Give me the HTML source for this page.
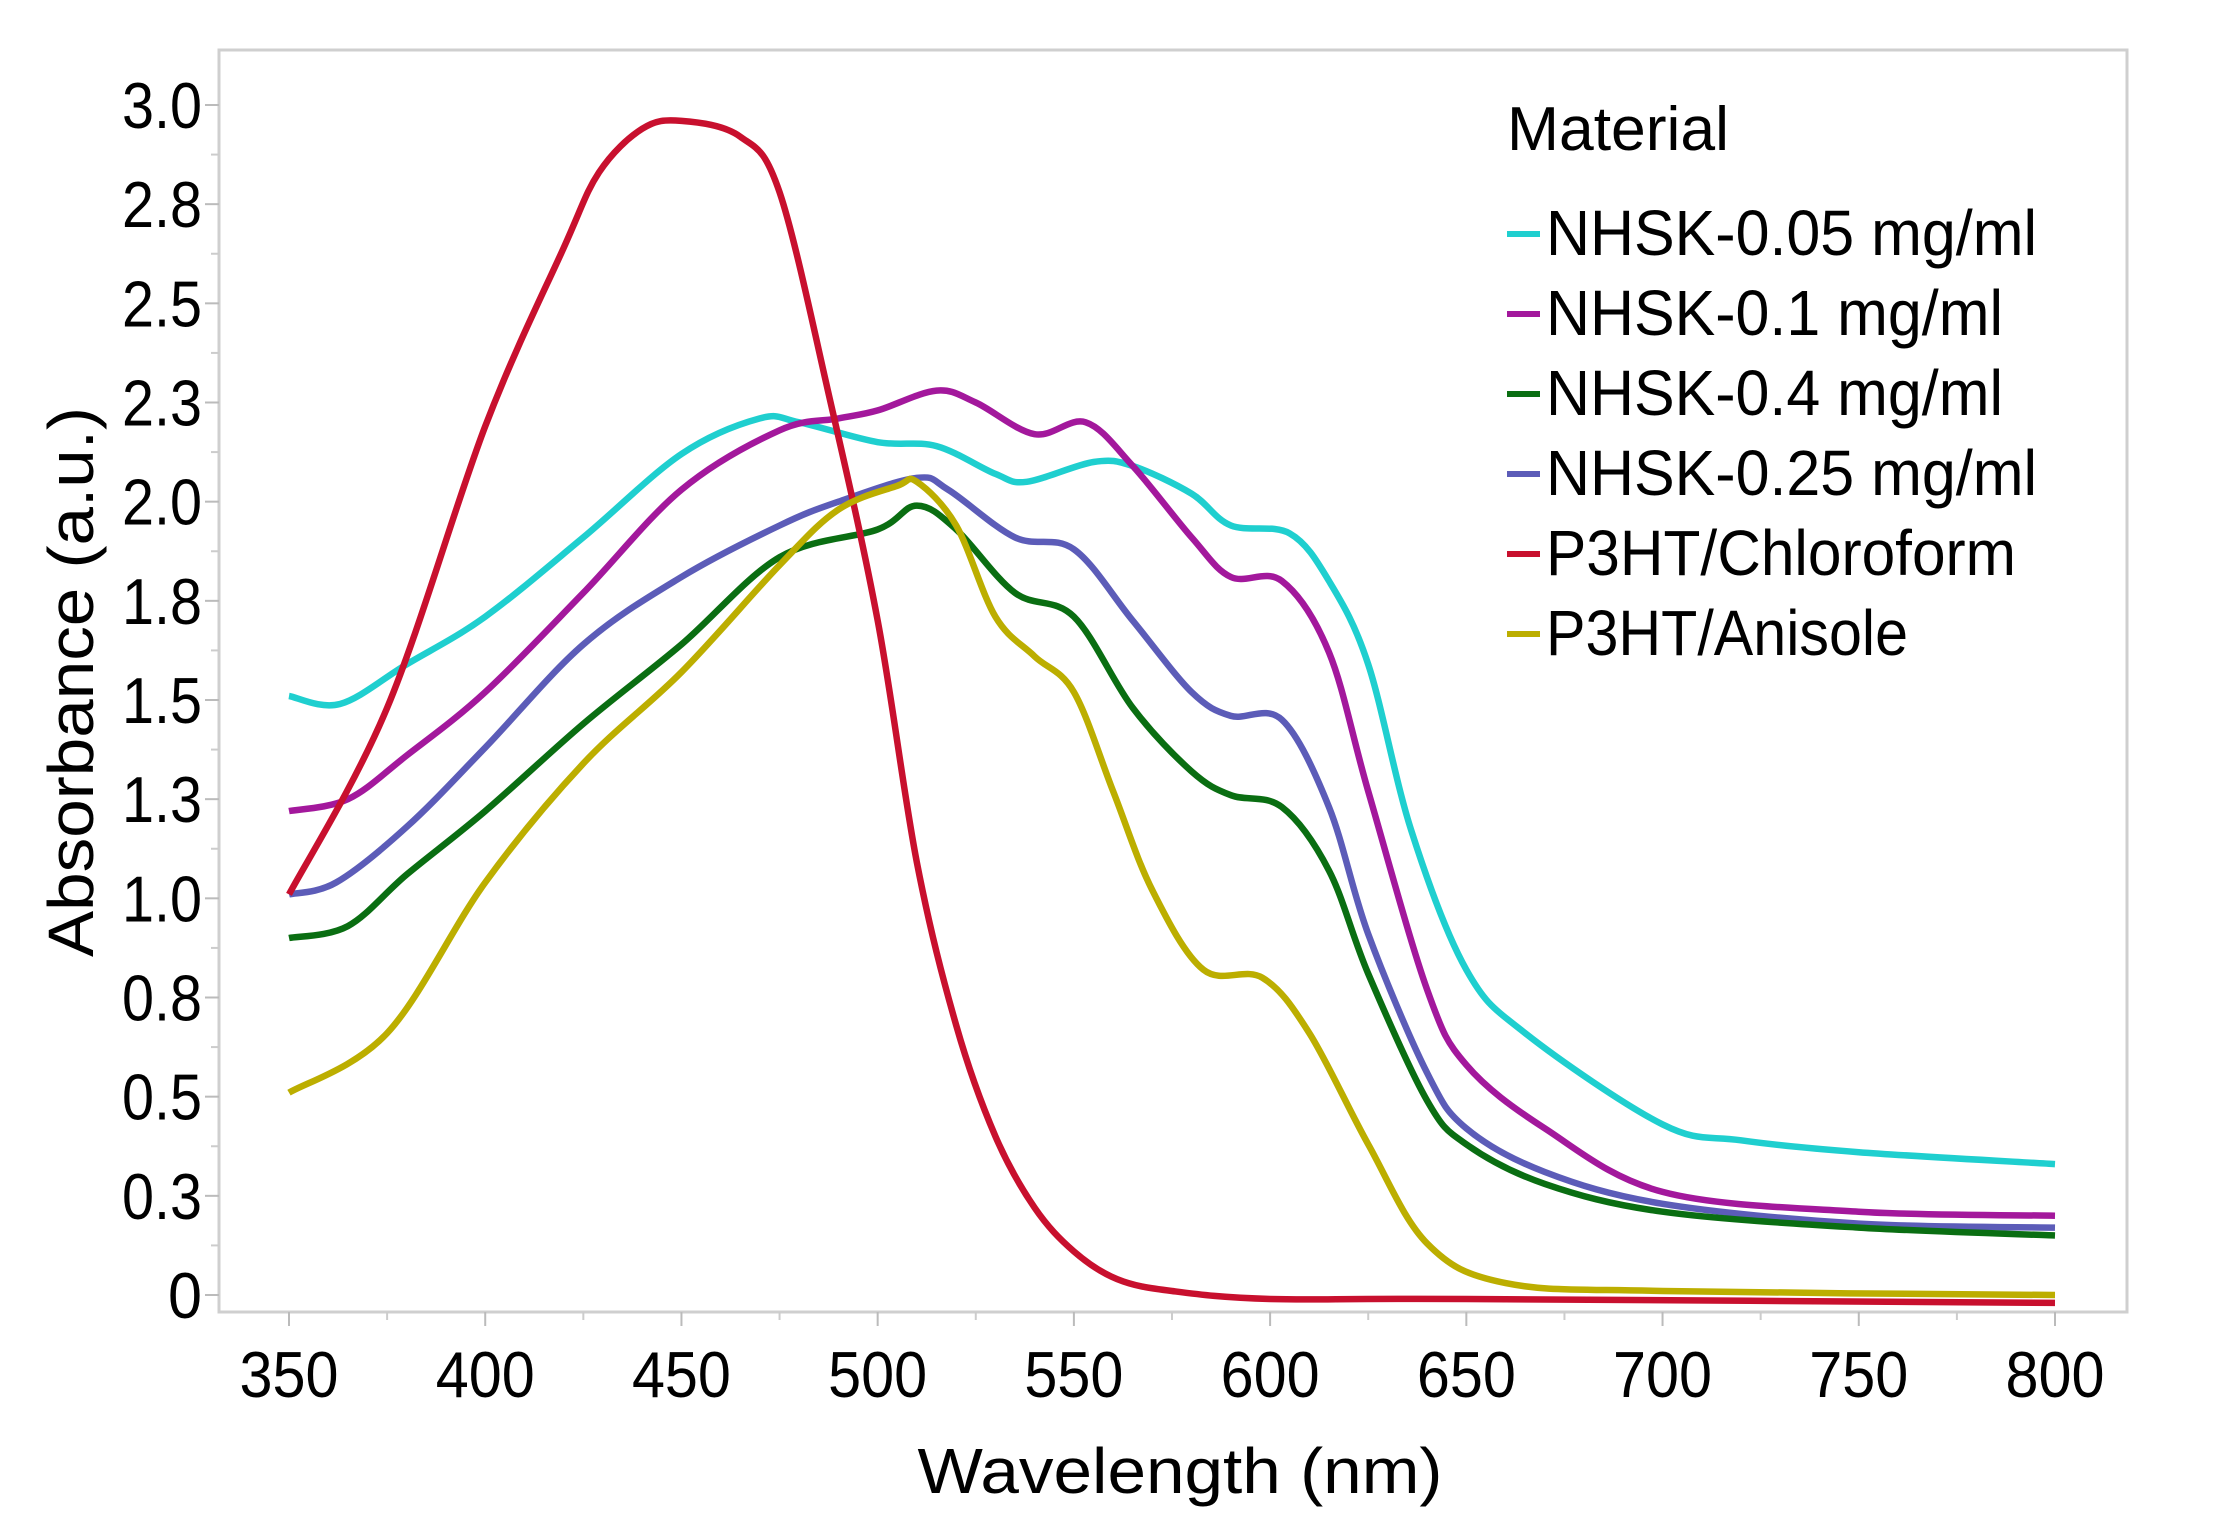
<!DOCTYPE html>
<html><head><meta charset="utf-8"><style>
html,body{margin:0;padding:0;background:#fff;}
svg{display:block;font-family:"Liberation Sans",sans-serif;}
</style></head><body>
<svg id="chart" width="2213" height="1536" viewBox="0 0 2213 1536">
<g id="axes"></g><g id="series"></g><g id="legend"></g>
</svg>
<script>
const xTicks=[350,400,450,500,550,600,650,700,750,800];
const yTickVals=[0,0.25,0.5,0.75,1,1.25,1.5,1.75,2,2.25,2.5,2.75,3];
const yTickLabels=["0","0.3","0.5","0.8","1.0","1.3","1.5","1.8","2.0","2.3","2.5","2.8","3.0"];
const seriesNames=["NHSK-0.05 mg/ml","NHSK-0.1 mg/ml","NHSK-0.4 mg/ml","NHSK-0.25 mg/ml","P3HT/Chloroform","P3HT/Anisole"];
const seriesColors=["#1fcfcf","#a3189c","#0a6e12","#5c5cb8","#c8102e","#bcae00"];
const wlCyan=[350,363,380,400,425,450,470,480,500,515,530,538,555,565,580,590,605,615,625,636,650,665,700,720,750,800];
const absCyan=[1.51,1.49,1.59,1.71,1.91,2.12,2.21,2.20,2.15,2.14,2.07,2.05,2.10,2.09,2.02,1.94,1.92,1.80,1.59,1.17,0.82,0.66,0.43,0.39,0.36,0.33];
const wlMag=[350,365,380,400,425,450,475,490,500,515,525,540,553,565,580,590,603,615,625,640,650,670,700,750,800];
const absMag=[1.22,1.25,1.36,1.52,1.77,2.03,2.18,2.21,2.23,2.28,2.25,2.17,2.20,2.09,1.91,1.81,1.80,1.62,1.27,0.77,0.58,0.42,0.26,0.21,0.20];
const wlGreen=[350,365,380,400,425,450,475,500,510,520,535,550,565,580,590,603,615,625,640,650,670,700,750,800];
const absGreen=[0.90,0.93,1.06,1.22,1.44,1.64,1.86,1.93,1.99,1.93,1.77,1.71,1.48,1.32,1.26,1.23,1.07,0.81,0.49,0.38,0.28,0.21,0.17,0.15];
const wlBlue=[350,362,380,400,425,450,475,490,510,518,535,550,565,580,590,603,615,625,640,650,670,700,750,800];
const absBlue=[1.01,1.04,1.18,1.38,1.64,1.81,1.94,2.00,2.06,2.03,1.91,1.88,1.70,1.52,1.46,1.45,1.23,0.91,0.56,0.42,0.31,0.23,0.18,0.17];
const wlRed=[350,375,400,420,429,440,450,465,475,488,500,510,520,530,540,550,561,575,600,650,800];
const absRed=[1.01,1.48,2.19,2.64,2.83,2.94,2.96,2.92,2.78,2.25,1.70,1.09,0.68,0.40,0.22,0.11,0.04,0.01,-0.01,-0.01,-0.02];
const wlYel=[350,375,400,425,450,475,490,505,510,520,530,540,550,560,570,583,598,610,625,640,660,700,800];
const absYel=[0.51,0.66,1.04,1.34,1.57,1.84,1.98,2.04,2.05,1.94,1.71,1.61,1.52,1.27,1.02,0.82,0.80,0.66,0.38,0.13,0.03,0.01,0.0];
const allWl=[wlCyan,wlMag,wlGreen,wlBlue,wlRed,wlYel];
const allAbs=[absCyan,absMag,absGreen,absBlue,absRed,absYel];

const NS="http://www.w3.org/2000/svg";
const X0=289,X1=2055,Y0=1295,Y3=105;
function xs(w){return X0+(w-350)*(X1-X0)/450;}
function ys(v){return Y0-v*(Y0-Y3)/3;}
function mk(tag,attrs,parent){const e=document.createElementNS(NS,tag);for(const k in attrs)e.setAttribute(k,attrs[k]);parent.appendChild(e);return e;}
const axes=document.getElementById('axes');
let f=mk('path',{d:'M219 1312 L2127 1312 L2127 50 L219 50 Z',fill:'none',stroke:'#cfcfcf','stroke-width':3},axes);


xTicks.forEach((t,i)=>{
  const l=mk('line',{x1:xs(t),x2:xs(t),y1:1312,y2:1326,stroke:'#bbb','stroke-width':2},axes);
  
  
  if(i<xTicks.length-1){const m=mk('line',{x1:xs(t+25),x2:xs(t+25),y1:1312,y2:1320,stroke:'#ccc','stroke-width':2},axes);
  
  }
  const tx=mk('text',{x:xs(t),y:1397,'text-anchor':'middle','font-size':65,textLength:99,lengthAdjust:'spacingAndGlyphs',fill:'#000'},axes);
  tx.textContent=t;
  
  
});
yTickVals.forEach((v,i)=>{
  const l=mk('line',{x1:205,x2:219,y1:ys(v),y2:ys(v),stroke:'#bbb','stroke-width':2},axes);
  
  
  if(i<yTickVals.length-1){const m=mk('line',{x1:211,x2:219,y1:ys(v+0.125),y2:ys(v+0.125),stroke:'#ccc','stroke-width':2},axes);
  
  }
  const lab=yTickLabels[i];
  const tx=mk('text',{x:202,y:ys(v)+23,'text-anchor':'end','font-size':65,textLength:lab.length===1?34:80,lengthAdjust:'spacingAndGlyphs',fill:'#000'},axes);
  tx.textContent=lab;
  
  
});
let xt=mk('text',{x:1180,y:1493,'text-anchor':'middle','font-size':64,textLength:525,lengthAdjust:'spacingAndGlyphs',fill:'#000'},axes);
xt.textContent='Wavelength (nm)';


let yt=mk('text',{x:0,y:0,'text-anchor':'middle','font-size':64,textLength:550,lengthAdjust:'spacingAndGlyphs',fill:'#000',transform:'translate(93,682) rotate(-90)'},axes);
yt.textContent='Absorbance (a.u.)';



function smoothPath(px,py){
  let d='M'+px[0].toFixed(1)+' '+py[0].toFixed(1);
  for(let i=0;i<px.length-1;i++){
    const x0=px[Math.max(i-1,0)],y0=py[Math.max(i-1,0)],x1=px[i],y1=py[i],x2=px[i+1],y2=py[i+1],x3=px[Math.min(i+2,px.length-1)],y3=py[Math.min(i+2,px.length-1)];
    const c1x=x1+(x2-x0)/6,c1y=y1+(y2-y0)/6,c2x=x2-(x3-x1)/6,c2y=y2-(y3-y1)/6;
    d+=' C'+c1x.toFixed(1)+' '+c1y.toFixed(1)+' '+c2x.toFixed(1)+' '+c2y.toFixed(1)+' '+x2.toFixed(1)+' '+y2.toFixed(1);
  }
  return d;
}
const sg=document.getElementById('series');
const order=[0,1,3,2,4,5];
order.forEach(k=>{
  const p=mk('path',{d:smoothPath(allWl[k].map(xs),allAbs[k].map(ys)),fill:'none',stroke:seriesColors[k],'stroke-width':6.5,'stroke-linejoin':'round','stroke-linecap':'butt'},sg);
  
  
});
const lg=document.getElementById('legend');
let lt=mk('text',{x:1507,y:150,'font-size':62,textLength:222,lengthAdjust:'spacingAndGlyphs',fill:'#000'},lg);
lt.textContent='Material';


const lens=[491,457,457,491,470,362];
seriesNames.forEach((n,i)=>{
  const y=255+i*80;
  const ln=mk('line',{x1:1507,x2:1540,y1:y-21,y2:y-21,stroke:seriesColors[i],'stroke-width':6},lg);
  
  
  const t=mk('text',{x:1546,y:y,'font-size':64,textLength:lens[i],lengthAdjust:'spacingAndGlyphs',fill:'#000'},lg);
  t.textContent=n;
  
  
});
</script>
</body></html>
